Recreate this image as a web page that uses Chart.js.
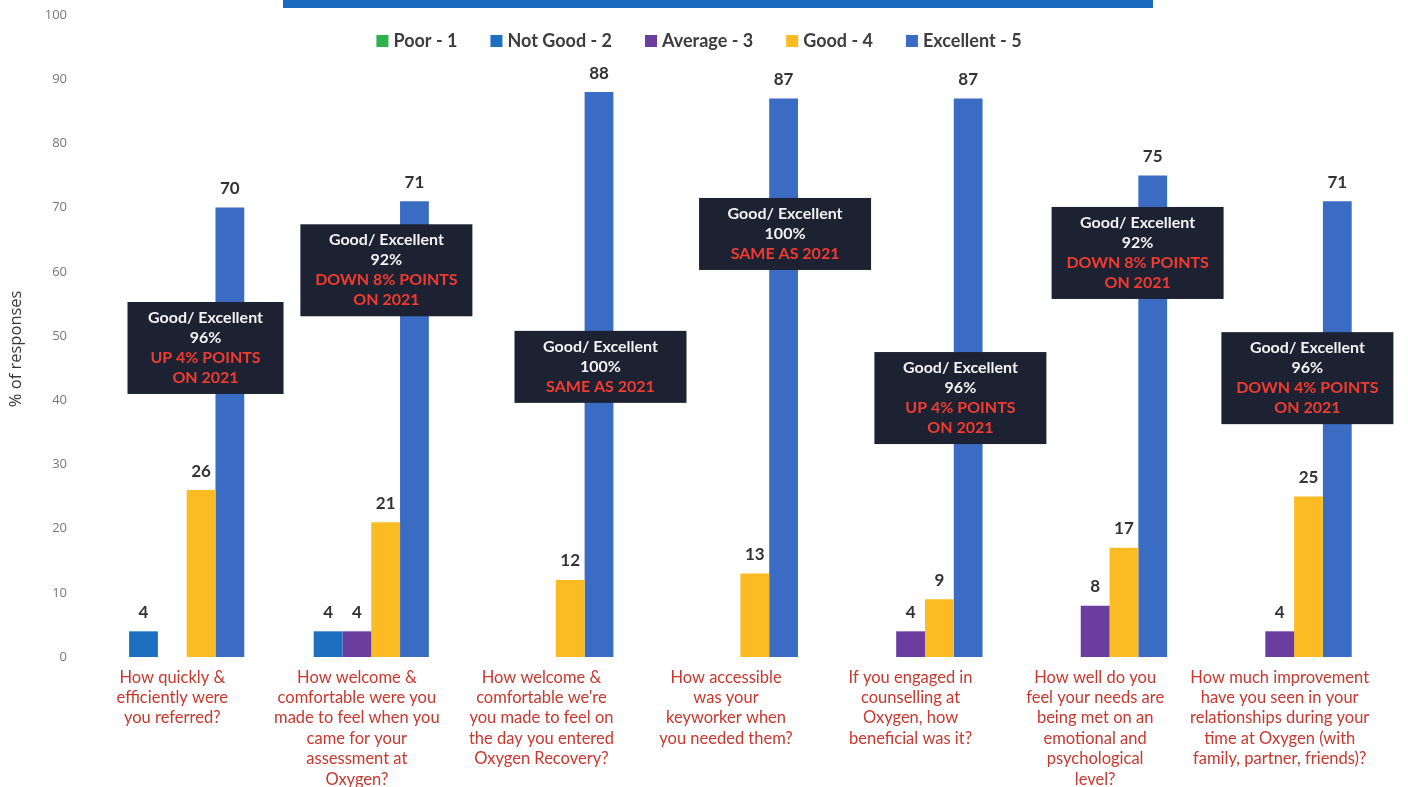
<!DOCTYPE html>
<html>
<head>
    <title>Survey responses</title>
    <script src="https://cdn.jsdelivr.net/npm/chart.js"></script>
    <style>
        body {
            margin: 0;
            padding: 0;
            background-color: #fff;
        }

        #wrap {
            position: relative;
            width: 1408px;
            height: 787px;
        }
    </style>
</head>
<body>
    <div id="wrap"><canvas id="myChart"></canvas></div>

    <script>
        // categories (question text, one line per entry)
        var questions = [
            ['How quickly &', 'efficiently were', 'you referred?'],
            ['How welcome &', 'comfortable were you', 'made to feel when you', 'came for your', 'assessment at', 'Oxygen?'],
            ['How welcome &', 'comfortable we\'re', 'you made to feel on', 'the day you entered', 'Oxygen Recovery?'],
            ['How accessible', 'was your', 'keyworker when', 'you needed them?'],
            ['If you engaged in', 'counselling at', 'Oxygen, how', 'beneficial was it?'],
            ['How well do you', 'feel your needs are', 'being met on an', 'emotional and', 'psychological', 'level?'],
            ['How much improvement', 'have you seen in your', 'relationships during your', 'time at Oxygen (with', 'family, partner, friends)?']
        ];

        // series values, % of responses
        var poor      = [0, 0, 0, 0, 0, 0, 0];
        var notGood   = [4, 4, 0, 0, 0, 0, 0];
        var average   = [0, 4, 0, 0, 4, 8, 4];
        var good      = [26, 21, 12, 13, 9, 17, 25];
        var excellent = [70, 71, 88, 87, 87, 75, 71];

        var seriesNames = ['Poor - 1', 'Not Good - 2', 'Average - 3', 'Good - 4', 'Excellent - 5'];

        // callout boxes
        var boxPct = ['96%', '92%', '100%', '100%', '96%', '92%', '96%'];
        var boxChange = [
            ['UP 4% POINTS', 'ON 2021'],
            ['DOWN 8% POINTS', 'ON 2021'],
            ['SAME AS 2021'],
            ['SAME AS 2021'],
            ['UP 4% POINTS', 'ON 2021'],
            ['DOWN 8% POINTS', 'ON 2021'],
            ['DOWN 4% POINTS', 'ON 2021']
        ];
        // where each box sits: x as category index, top as axis value
        var boxX   = [0.18, 1.16, 2.32, 3.32, 4.27, 5.23, 6.15];
        var boxTop = [55.3, 67.4, 50.8, 71.5, 47.5, 70.1, 50.6];
        var boxW   = [156, 172, 172, 172, 172, 172, 172];

        var colors = ['#2eb24b', '#1d6fc0', '#6a3d9f', '#fbbb22', '#3b6cc4'];

        var extras = {
            id: 'extras',
            beforeDraw: function(chart) {
                // cut-off title banner at the top
                var ctx = chart.ctx;
                ctx.save();
                ctx.fillStyle = '#1b6bc0';
                ctx.fillRect(283, 0, 870, 8);
                ctx.restore();
            },
            afterDatasetsDraw: function(chart) {
                var ctx = chart.ctx;
                var x = chart.scales.x;
                var y = chart.scales.y;
                ctx.save();
                ctx.textBaseline = 'middle';

                // value labels above bars
                ctx.font = 'bold 17px Lato';
                ctx.fillStyle = '#333';
                ctx.textAlign = 'center';
                chart.data.datasets.forEach(function(ds, i) {
                    chart.getDatasetMeta(i).data.forEach(function(bar, j) {
                        if (ds.data[j] > 0) {
                            ctx.fillText(ds.data[j], bar.x, bar.y - 19);
                        }
                    });
                });

                // Good/ Excellent boxes
                ctx.font = 'bold 16px Lato';
                for (var i = 0; i < boxPct.length; i++) {
                    var lines = ['Good/ Excellent', boxPct[i]].concat(boxChange[i]);
                    var w = boxW[i];
                    var h = lines.length * 20 + 12;
                    var cx = x.getPixelForValue(boxX[i]);
                    var top = y.getPixelForValue(boxTop[i]);
                    ctx.fillStyle = '#1c2231';
                    ctx.fillRect(cx - w / 2, top, w, h);
                    for (var k = 0; k < lines.length; k++) {
                        ctx.fillStyle = k < 2 ? '#f2f2f2' : '#f23b30';
                        ctx.fillText(lines[k], cx, top + 16 + k * 20);
                    }
                }

                // legend across the top, centred on the page
                ctx.font = 'bold 18px Lato';
                ctx.textAlign = 'left';
                var items = chart.data.datasets;
                var gap = 33;
                var total = 0;
                items.forEach(function(ds, i) {
                    total += 17 + ctx.measureText(ds.label).width + (i < items.length - 1 ? gap : 0);
                });
                var lx = chart.width / 2 - 5 - total / 2;
                var ly = 41;
                items.forEach(function(ds) {
                    ctx.fillStyle = ds.backgroundColor;
                    ctx.fillRect(lx, ly - 6, 12, 12);
                    ctx.fillStyle = '#3d3d3d';
                    ctx.fillText(ds.label, lx + 17, ly);
                    lx += 17 + ctx.measureText(ds.label).width + gap;
                });
                ctx.restore();
            }
        };

        var series = [poor, notGood, average, good, excellent];
        var datasets = series.map(function(d, i) {
            return {
                label: seriesNames[i],
                data: d,
                backgroundColor: colors[i],
                categoryPercentage: 0.78,
                barPercentage: 1.0
            };
        });

        var ctx = document.getElementById('myChart').getContext('2d');
        var myChart = new Chart(ctx, {
            type: 'bar',
            data: {
                labels: questions,
                datasets: datasets
            },
            plugins: [extras],
            options: {
                responsive: true,
                maintainAspectRatio: false,
                animation: false,
                layout: {
                    padding: { top: 15, right: 36, bottom: 0, left: 0 }
                },
                plugins: {
                    legend: { display: false },
                    tooltip: { enabled: false }
                },
                scales: {
                    x: {
                        grid: { display: false, drawTicks: false },
                        border: { display: false },
                        ticks: {
                            color: '#c8382f',
                            maxRotation: 0,
                            autoSkip: false,
                            padding: 10,
                            font: { family: 'Lato', size: 16.5, lineHeight: 1.24 }
                        },
                        afterFit: function(s) { s.height = 130; }
                    },
                    y: {
                        min: 0,
                        max: 100,
                        grid: { display: false, drawTicks: false },
                        border: { display: false },
                        ticks: {
                            stepSize: 10,
                            color: '#777',
                            padding: 13,
                            font: { family: 'Open Sans', size: 13 }
                        },
                        title: {
                            display: true,
                            text: '% of responses      ',
                            color: '#383838',
                            padding: { top: 6, bottom: 0 },
                            font: { family: 'Open Sans', size: 16.5 }
                        },
                        afterFit: function(s) {
                            s.width = 80;
                            s.paddingTop = 0;
                            s.paddingBottom = 0;
                        }
                    }
                }
            }
        });
    </script>
</body>
</html>
